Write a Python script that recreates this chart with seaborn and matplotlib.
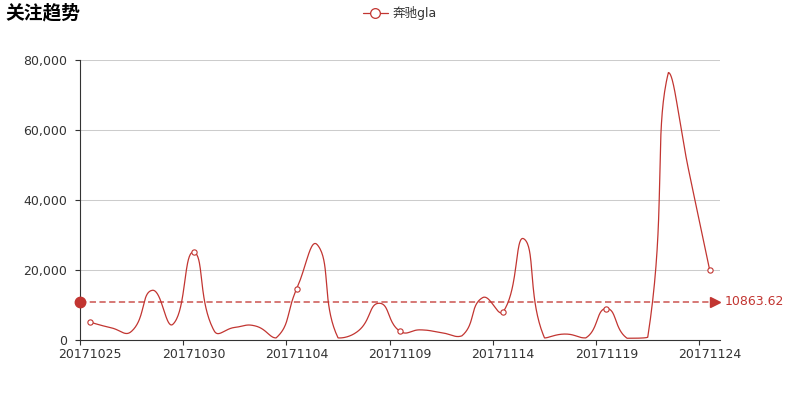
import matplotlib
matplotlib.use('Agg')
import matplotlib.pyplot as plt
from matplotlib.lines import Line2D
from matplotlib.ticker import FuncFormatter, FixedLocator
import numpy as np
import pandas as pd
import seaborn as sns

# data
dates = ['20171025', '20171026', '20171027', '20171028', '20171029', '20171030',
         '20171031', '20171101', '20171102', '20171103', '20171104', '20171105',
         '20171106', '20171107', '20171108', '20171109', '20171110', '20171111',
         '20171112', '20171113', '20171114', '20171115', '20171116', '20171117',
         '20171118', '20171119', '20171120', '20171121', '20171122', '20171123',
         '20171124']
follows = [5100, 3500, 2500, 14200, 4500, 25100, 2600, 3600, 4000, 600,
           14700, 27172.3, 600, 2700, 10500, 2500, 2900, 2100, 1200, 12100,
           8100, 28900, 600, 1700, 600, 9000, 500, 800, 76400, 48000, 20000]
series_name = '奔驰gla'
title = '关注趋势'
y_ticks = [0, 20000, 40000, 60000, 80000]

RED = '#c23531'
TXT = '#333333'
FS = 9


def smooth_curve(pts, smooth=0.5):
    # echarts style bezier smoothing with bounding-box constraint (pixel space)
    lo, hi = pts.min(axis=0), pts.max(axis=0)
    n = len(pts)
    t = np.linspace(0, 1, 40)[1:, None]
    out = [pts[0]]
    cp0 = pts[0].copy()
    for i in range(1, n):
        p = pts[i]
        if i == n - 1:
            cp1 = p.copy()
        else:
            v = pts[i + 1] - pts[i - 1]
            d0 = np.hypot(*(p - pts[i - 1]))
            d1 = np.hypot(*(p - pts[i + 1]))
            ratio = d1 / (d0 + d1)
            cp1 = p - v * smooth * (1 - ratio)
        a = np.clip(cp0, lo, hi)
        b = np.clip(cp1, lo, hi)
        q = pts[i - 1]
        seg = (1 - t) ** 3 * q + 3 * (1 - t) ** 2 * t * a + 3 * (1 - t) * t ** 2 * b + t ** 3 * p
        out.extend(seg)
        if i < n - 1:
            cp0 = p + v * smooth * ratio
    return np.array(out)


sns.set_theme(style='white')
plt.rcParams['font.family'] = ['DejaVu Sans', 'Noto Sans CJK SC']
plt.rcParams['lines.scale_dashes'] = False

fig = plt.figure(figsize=(8, 4), dpi=100)
ax = fig.add_axes([0.1, 0.15, 0.8, 0.7])
ax.set_xlim(-0.5, len(dates) - 0.5)
ax.set_ylim(0, 80000)

df = pd.DataFrame({'idx': np.arange(len(dates)), 'value': follows, 'date': dates})

# smooth the line in pixel space, then map back to data coords
disp = ax.transData.transform(df[['idx', 'value']].to_numpy(dtype=float))
curve = ax.transData.inverted().transform(smooth_curve(disp))
curve_df = pd.DataFrame({'x': curve[:, 0], 'y': curve[:, 1]})
sns.lineplot(data=curve_df, x='x', y='y', sort=False, estimator=None,
             color=RED, linewidth=0.9, ax=ax)

# symbols only on the labelled categories
shown = df.iloc[::5]
ax.plot(shown['idx'], shown['value'], linestyle='none', marker='o', markersize=3.8,
        markerfacecolor='white', markeredgecolor=RED, markeredgewidth=0.8, zorder=4)

# average mark line
avg = float(np.mean(follows))
x0, x1 = ax.get_xlim()
ax.plot([x0, x1 - 0.1], [avg, avg], color=RED, linewidth=1.1, alpha=0.85,
        linestyle=(0, (4.5, 2.5)), zorder=3, clip_on=False)
ax.plot([x0], [avg], marker='o', markersize=7.5, color=RED, clip_on=False, zorder=5)
ax.plot([x1 - 0.25], [avg], marker='>', markersize=7, color=RED, clip_on=False, zorder=5)
ax.annotate(f'{avg:.2f}', xy=(x1, avg), xytext=(3.5, 0), textcoords='offset points',
            va='center', ha='left', color=RED, fontsize=FS, annotation_clip=False)

# axes styling
for side in ['top', 'right']:
    ax.spines[side].set_visible(False)
for side in ['left', 'bottom']:
    ax.spines[side].set_color(TXT)
    ax.spines[side].set_linewidth(0.8)

ax.yaxis.set_major_locator(FixedLocator(y_ticks))
ax.yaxis.set_major_formatter(FuncFormatter(lambda v, _: f'{int(v):,}'))
ax.grid(axis='y', color='#cccccc', linewidth=0.75)
ax.set_axisbelow(True)
ax.tick_params(axis='y', left=True, length=3.6, width=0.8, color=TXT, pad=5.8,
               labelsize=FS, labelcolor=TXT)

ax.set_xticks(df['idx'].iloc[::5])
ax.set_xticklabels(df['date'].iloc[::5])
ax.set_xticks(np.arange(-0.5, len(dates) - 1, 5), minor=True)
ax.tick_params(axis='x', which='major', bottom=True, length=0, pad=5.5,
               labelsize=FS, labelcolor=TXT)
ax.tick_params(axis='x', which='minor', bottom=True, length=3.6, width=0.8, color=TXT)
ax.set_xlabel('')
ax.set_ylabel('')

# title and legend
fig.text(5 / 800, 1 - 3 / 400, title, fontsize=13.5, fontweight='bold', color='#000000',
         va='top', ha='left', family=['Noto Sans CJK SC', 'DejaVu Sans'])
handle = Line2D([], [], color=RED, linewidth=0.9, marker='o', markersize=7,
                markerfacecolor='white', markeredgecolor=RED, markeredgewidth=0.9)
fig.legend([handle], [series_name], loc='upper center', bbox_to_anchor=(0.5, 1.012),
           frameon=False, handlelength=2.0, handletextpad=0.4,
           labelcolor=TXT, prop={'family': ['DejaVu Sans', 'Noto Sans CJK SC'], 'size': FS})

fig.savefig('out.png', dpi=100)
